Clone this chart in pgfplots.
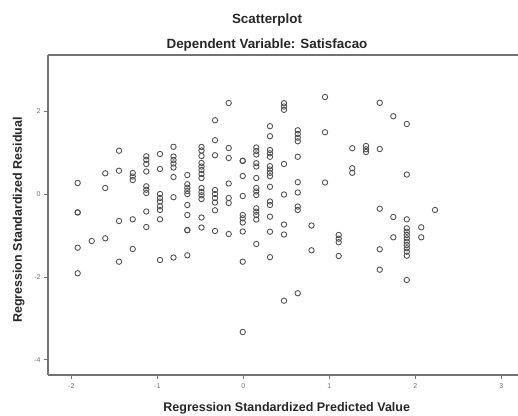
\documentclass[border=0pt]{standalone}
\usepackage{pgfplots}
\pgfplotsset{compat=1.18}
\usepackage{pgfplotstable}
\usepackage{fontspec}
\setmainfont{Liberation Sans}
\definecolor{axgray}{gray}{0.45}
\definecolor{mkgray}{gray}{0.3}
\pgfplotstableread{
x y
-1.926 0.273
-1.926 -0.435
-1.926 -0.440
-1.926 -1.290
-1.926 -1.908
-1.763 -1.128
-1.605 0.507
-1.605 0.152
-1.605 -1.063
-1.445 1.053
-1.445 0.570
-1.445 -0.645
-1.445 -1.628
-1.286 0.514
-1.286 0.430
-1.286 0.345
-1.286 -0.604
-1.286 -1.321
-1.128 0.918
-1.128 0.833
-1.128 0.732
-1.128 0.551
-1.128 0.193
-1.128 0.111
-1.128 0.031
-1.128 -0.415
-1.128 -0.790
-0.969 0.973
-0.969 0.611
-0.969 0.007
-0.969 -0.089
-0.969 -0.174
-0.969 -0.290
-0.969 -0.379
-0.969 -0.604
-0.969 -1.587
-0.812 1.147
-0.812 0.913
-0.812 0.829
-0.812 0.744
-0.812 0.647
-0.812 0.418
-0.812 -0.070
-0.812 -1.527
-0.651 0.466
-0.651 0.242
-0.651 0.159
-0.651 0.080
-0.651 0.007
-0.651 -0.258
-0.651 -0.500
-0.651 -0.862
-0.651 -0.870
-0.651 -1.473
-0.486 1.143
-0.486 1.058
-0.486 0.925
-0.486 0.756
-0.486 0.671
-0.486 0.587
-0.486 0.490
-0.486 0.394
-0.486 0.152
-0.486 0.056
-0.486 -0.024
-0.486 -0.114
-0.486 -0.560
-0.486 -0.802
-0.329 1.790
-0.329 1.307
-0.329 0.944
-0.329 0.104
-0.329 0.007
-0.329 -0.089
-0.329 -0.198
-0.329 -0.386
-0.329 -0.886
-0.170 2.205
-0.170 1.118
-0.170 0.877
-0.170 0.261
-0.170 -0.089
-0.170 -0.210
-0.170 -0.959
-0.007 0.812
-0.007 0.805
-0.007 0.442
-0.007 -0.041
-0.007 -0.500
-0.007 -0.580
-0.007 -0.681
-0.007 -0.899
-0.007 -1.628
-0.007 -3.326
0.151 1.130
0.151 1.046
0.151 0.961
0.151 0.751
0.151 0.671
0.151 0.394
0.151 0.152
0.151 0.068
0.151 -0.017
0.151 -0.338
0.151 -0.420
0.151 -0.500
0.151 -0.609
0.151 -1.200
0.310 1.645
0.310 1.403
0.310 1.070
0.310 0.990
0.310 0.906
0.310 0.679
0.310 0.599
0.310 0.519
0.310 0.437
0.310 0.181
0.310 -0.174
0.310 -0.258
0.310 -0.541
0.310 -0.903
0.310 -1.519
0.473 2.200
0.473 2.121
0.473 2.041
0.473 0.732
0.473 -0.005
0.473 -0.729
0.473 -0.971
0.473 -2.570
0.633 1.546
0.633 1.457
0.633 1.367
0.633 1.280
0.633 0.906
0.633 0.292
0.633 0.043
0.633 -0.295
0.633 -0.379
0.633 -2.391
0.793 -0.754
0.793 -1.353
0.950 2.350
0.950 1.498
0.950 0.285
1.109 -0.983
1.109 -1.072
1.109 -1.157
1.109 -1.490
1.267 1.114
1.267 0.630
1.267 0.519
1.427 1.167
1.427 1.087
1.427 1.022
1.586 2.210
1.586 1.094
1.586 -0.348
1.586 -1.329
1.586 -1.821
1.744 1.886
1.744 -0.548
1.744 -1.039
1.901 1.698
1.901 0.478
1.901 -0.604
1.901 -0.821
1.901 -0.903
1.901 -0.983
1.901 -1.063
1.901 -1.145
1.901 -1.225
1.901 -1.304
1.901 -1.386
1.901 -1.483
1.901 -2.070
2.069 -0.797
2.069 -1.039
2.229 -0.379
}\resid
\begin{document}
\begin{tikzpicture}
\begin{axis}[
  at={(0pt,0pt)}, anchor=south west,
  scale only axis,
  width=470pt, height=320pt,
  xmin=-2.271, xmax=3.194,
  ymin=-4.365, ymax=3.365,
  axis x line*=box, axis y line*=left,
  x axis line style={-, draw=axgray, line width=1.1pt},
  y axis line style={-, draw=axgray, line width=1.1pt},
  xtick={-2,-1,0,1,2,3}, ytick={-4,-2,0,2},
  xtick pos=bottom, ytick pos=left,
  tick align=outside, major tick length=4pt,
  tick style={draw=axgray, line width=0.8pt},
  /pgf/number format/assume math mode=true,
  tick label style={font=\fontsize{7}{8}\selectfont, text=black!55},
  xticklabel style={yshift=-1pt},
  clip=false,
]
\addplot[only marks, mark=o, mark size=2.7pt, mark options={draw=mkgray, line width=0.85pt}] table[x=x,y=y] {\resid};
\end{axis}
\node[anchor=base, font=\fontsize{13.4}{15}\selectfont\bfseries, text=black!85] at (219pt,351pt) {Scatterplot};
\node[anchor=base, font=\fontsize{13.4}{15}\selectfont\bfseries, text=black!85] at (219pt,326pt) {Dependent Variable: Satisfacao};
\node[anchor=base, font=\fontsize{12.5}{14}\selectfont\bfseries, text=black!85] at (238.7pt,-36pt) {Regression Standardized Predicted Value};
\node[anchor=base, rotate=90, font=\fontsize{12.5}{14}\selectfont\bfseries, text=black!85] at (-26pt,155pt) {Regression Standardized Residual};
\pgfresetboundingbox
\path[use as bounding box] (-48pt,-40pt) rectangle (470pt,375pt);
\end{tikzpicture}
\end{document}
